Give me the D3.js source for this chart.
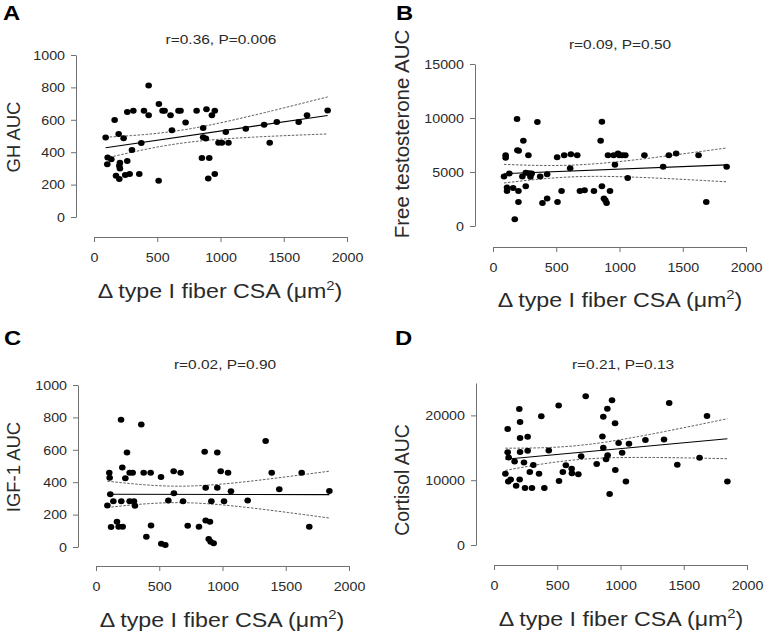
<!DOCTYPE html>
<html>
<head>
<meta charset="utf-8">
<script src="https://cdn.jsdelivr.net/npm/d3@7"></script>
<style>
  html, body { margin: 0; padding: 0; background: #fff; }
  svg { display: block; }
</style>
</head>
<body>
<svg id="chart" width="767" height="634"></svg>
<script>
// ---------------- DATA ----------------
const xTicks = [0, 500, 1000, 1500, 2000];

// Panel A : GH AUC
const ghX = [92,105,108,137,163,174,195,200,200,205,205,234,247,263,263,282,300,311,358,374,395,432,432,511,513,542,558,605,616,668,684,724,811,853,863,863,884,889,903,911,932,955,955,984,1011,1042,1063,1200,1345,1389,1445,1618,1684,1847];
const ghY = [490,325,368,356,599,255,512,317,235,335,300,486,259,648,346,265,414,656,265,457,656,628,811,224,698,656,656,628,535,656,656,584,656,364,549,492,484,665,237,364,628,656,265,459,459,525,459,545,570,459,586,586,628,658];
const ghTicks = [0, 200, 400, 600, 800, 1000];

// Panel B : Free testosterone AUC
const ttX = [87,100,100,111,111,129,159,172,190,193,203,201,201,240,232,259,259,280,285,296,306,351,373,391,428,428,507,510,542,563,610,616,666,687,724,798,851,861,861,877,888,898,909,925,954,964,988,999,1022,1046,1065,1197,1345,1390,1448,1625,1686,1847];
const ttY = [4580,6560,6310,3560,3250,4860,3530,620,9900,7020,6960,3250,2230,7890,4580,4920,3680,6560,4890,4550,4860,9620,4580,2130,4790,2540,6370,2230,3250,6560,5350,6650,6560,3250,3310,3250,7890,9650,3680,2540,2380,2130,6560,3250,6560,5660,6710,6560,6560,6560,4450,6560,5480,6560,6710,6560,2230,5480];
const ttTicks = [0, 5000, 10000, 15000];

// Panel C : IGF-1 AUC
const igfX = [90,105,108,113,119,137,166,179,198,200,208,211,232,245,266,266,290,300,308,358,377,398,432,435,514,516,548,572,614,616,669,688,725,814,859,867,867,891,901,906,912,930,959,959,986,1012,1044,1067,1199,1341,1389,1449,1626,1686,1845];
const igfY = [256,459,428,326,123,283,156,125,785,283,490,125,424,584,283,459,459,283,254,756,459,64,459,133,432,20,12,287,467,332,459,283,131,125,588,365,164,49,156,33,283,23,584,365,467,283,459,344,287,654,459,357,459,125,346];
const igfTicks = [0, 200, 400, 600, 800, 1000];

// Panel D : Cortisol AUC
const corX = [90,108,108,116,113,132,163,175,200,203,206,206,206,237,245,266,266,283,300,311,356,374,398,433,511,514,544,568,614,616,667,689,725,812,857,864,864,886,898,896,914,933,957,959,985,1013,1043,1067,1197,1344,1385,1449,1625,1684,1845];
const corY = [11000,17900,14300,13500,9800,10100,12900,9150,21000,10100,14350,19000,16500,12750,8800,16700,14550,11250,8800,12350,11000,19850,8800,14570,21540,9860,11250,12320,11780,11080,10930,13700,22970,12500,16750,19800,15000,13240,13850,21020,7860,22330,18770,11570,15730,14240,9800,15630,16200,16300,21920,12370,13470,19900,9800];
const corTicks = [0, 10000, 20000];

const letters = ["A", "B", "C", "D"];
const stats = ["r=0.36, P=0.006", "r=0.09, P=0.50", "r=0.02, P=0.90", "r=0.21, P=0.13"];
const yTitles = ["GH AUC", "Free testosterone AUC", "IGF-1 AUC", "Cortisol AUC"];
const yMaxes = [1000, 15000, 1000, 25000];

// ---------------- LAYOUT ----------------
const FONT = "'Liberation Sans', Arial, Helvetica, sans-serif";
const SX = 1.19;   // horizontal stretch of the original figure's type
const layout = [
  {x0: 94,  x1: 347, xAxisY: 237, yAxisX: 76,  y0: 217, y1: 55,  letter: [3, 20],   stat: [221, 44],  yT: [20, 137],  yFs: 18.5, xT: [220, 298]},
  {x0: 493, x1: 746, xAxisY: 247, yAxisX: 475, y0: 226, y1: 64,  letter: [396, 20], stat: [620, 49],  yT: [409, 134], yFs: 20.5, xT: [620, 307]},
  {x0: 96,  x1: 349, xAxisY: 566, yAxisX: 78,  y0: 547, y1: 385, letter: [4, 345],  stat: [225, 369], yT: [20, 467],  yFs: 18.5, xT: [222, 627]},
  {x0: 494, x1: 747, xAxisY: 565, yAxisX: 476, y0: 545, y1: 383, letter: [395, 345],stat: [623, 369], yT: [409, 480], yFs: 19.5, xT: [621, 626]}
];
const datasets = [[ghX, ghY, ghTicks], [ttX, ttY, ttTicks], [igfX, igfY, igfTicks], [corX, corY, corTicks]];

const svg = d3.select("#chart");
const AXIS_COLOR = "#707070";
const TEXT_COLOR = "#2a2a2a";

function linreg(xs, ys) {
  const n = xs.length;
  const mx = d3.mean(xs), my = d3.mean(ys);
  let sxx = 0, sxy = 0;
  for (let i = 0; i < n; i++) { sxx += (xs[i]-mx)**2; sxy += (xs[i]-mx)*(ys[i]-my); }
  const b = sxy / sxx, a = my - b * mx;
  let sse = 0;
  for (let i = 0; i < n; i++) sse += (ys[i] - a - b*xs[i])**2;
  const s = Math.sqrt(sse / (n - 2));
  return {a, b, s, n, mx, sxx};
}
const T975 = 2.006;

datasets.forEach(([xs, ys, yTicks], i) => {
  const L = layout[i];
  const g = svg.append("g");
  const x = d3.scaleLinear().domain([0, 2000]).range([L.x0, L.x1]);
  const y = d3.scaleLinear().domain([0, yMaxes[i]]).range([L.y0, L.y1]);

  // x axis
  const gx = g.append("g").attr("transform", `translate(0,${L.xAxisY})`)
    .call(d3.axisBottom(x).tickValues(xTicks).tickSize(5).tickSizeOuter(0).tickFormat(d3.format("d")));
  gx.select(".domain").attr("stroke", AXIS_COLOR);
  gx.selectAll(".tick line").attr("stroke", AXIS_COLOR);
  gx.selectAll(".tick text").attr("y", 0).attr("dy", null)
    .attr("transform", `translate(0,25) scale(${SX},1)`)
    .attr("font-family", FONT).attr("font-size", 12).attr("fill", TEXT_COLOR);

  // y axis
  const gy = g.append("g").attr("transform", `translate(${L.yAxisX},0)`)
    .call(d3.axisLeft(y).tickValues(yTicks).tickSize(5).tickSizeOuter(0).tickFormat(d3.format("d")));
  gy.select(".domain").attr("stroke", AXIS_COLOR);
  gy.selectAll(".tick line").attr("stroke", AXIS_COLOR);
  gy.selectAll(".tick text").attr("x", 0).attr("dy", "0.36em")
    .attr("transform", `translate(-11,0) scale(${SX},1)`)
    .attr("font-family", FONT).attr("font-size", 12).attr("fill", TEXT_COLOR);
  g.selectAll(".domain").attr("stroke-width", 1);

  // regression + 95% CI
  const r = linreg(xs, ys);
  const xmin = d3.min(xs), xmax = d3.max(xs);
  const grid = d3.range(0, 61).map(k => xmin + (xmax - xmin) * k / 60);
  const fit = xv => r.a + r.b * xv;
  const half = xv => T975 * r.s * Math.sqrt(1 / r.n + (xv - r.mx) ** 2 / r.sxx);
  const line = d3.line().x(d => x(d[0])).y(d => y(d[1]));
  g.append("path").attr("d", line(grid.map(v => [v, fit(v) + half(v)])))
    .attr("fill", "none").attr("stroke", "#333").attr("stroke-width", 0.8).attr("stroke-dasharray", "2.5,1.5");
  g.append("path").attr("d", line(grid.map(v => [v, fit(v) - half(v)])))
    .attr("fill", "none").attr("stroke", "#333").attr("stroke-width", 0.8).attr("stroke-dasharray", "2.5,1.5");
  g.append("path").attr("d", line([[xmin, fit(xmin)], [xmax, fit(xmax)]]))
    .attr("fill", "none").attr("stroke", "#000").attr("stroke-width", 1.1);

  // points
  g.append("g").selectAll("ellipse").data(xs.map((v, k) => [v, ys[k]])).join("ellipse")
    .attr("cx", d => x(d[0])).attr("cy", d => y(d[1]))
    .attr("rx", 3.3).attr("ry", 3.0).attr("fill", "#000");

  // texts
  g.append("text").attr("transform", `translate(${L.letter[0]},${L.letter[1]}) scale(${SX},1)`)
    .attr("font-family", FONT).attr("font-weight", "bold").attr("font-size", 20).attr("fill", "#000")
    .text(letters[i]);
  g.append("text").attr("transform", `translate(${L.stat[0]},${L.stat[1]}) scale(${SX},1)`)
    .attr("text-anchor", "middle").attr("font-family", FONT).attr("font-size", 13).attr("fill", TEXT_COLOR)
    .text(stats[i]);
  g.append("text").attr("transform", `translate(${L.yT[0]},${L.yT[1]}) rotate(-90)`)
    .attr("text-anchor", "middle").attr("font-family", FONT).attr("font-size", L.yFs).attr("fill", TEXT_COLOR)
    .text(yTitles[i]);
  const xt = g.append("text").attr("transform", `translate(${L.xT[0]},${L.xT[1]}) scale(${SX},1)`)
    .attr("text-anchor", "middle").attr("font-family", FONT).attr("font-size", 19.5).attr("fill", TEXT_COLOR);
  xt.append("tspan").text("\u0394 type I fiber CSA (\u03bcm");
  xt.append("tspan").attr("font-size", 12.5).attr("dy", -8).text("2");
  xt.append("tspan").attr("dy", 8).text(")");
});
</script>
</body>
</html>
